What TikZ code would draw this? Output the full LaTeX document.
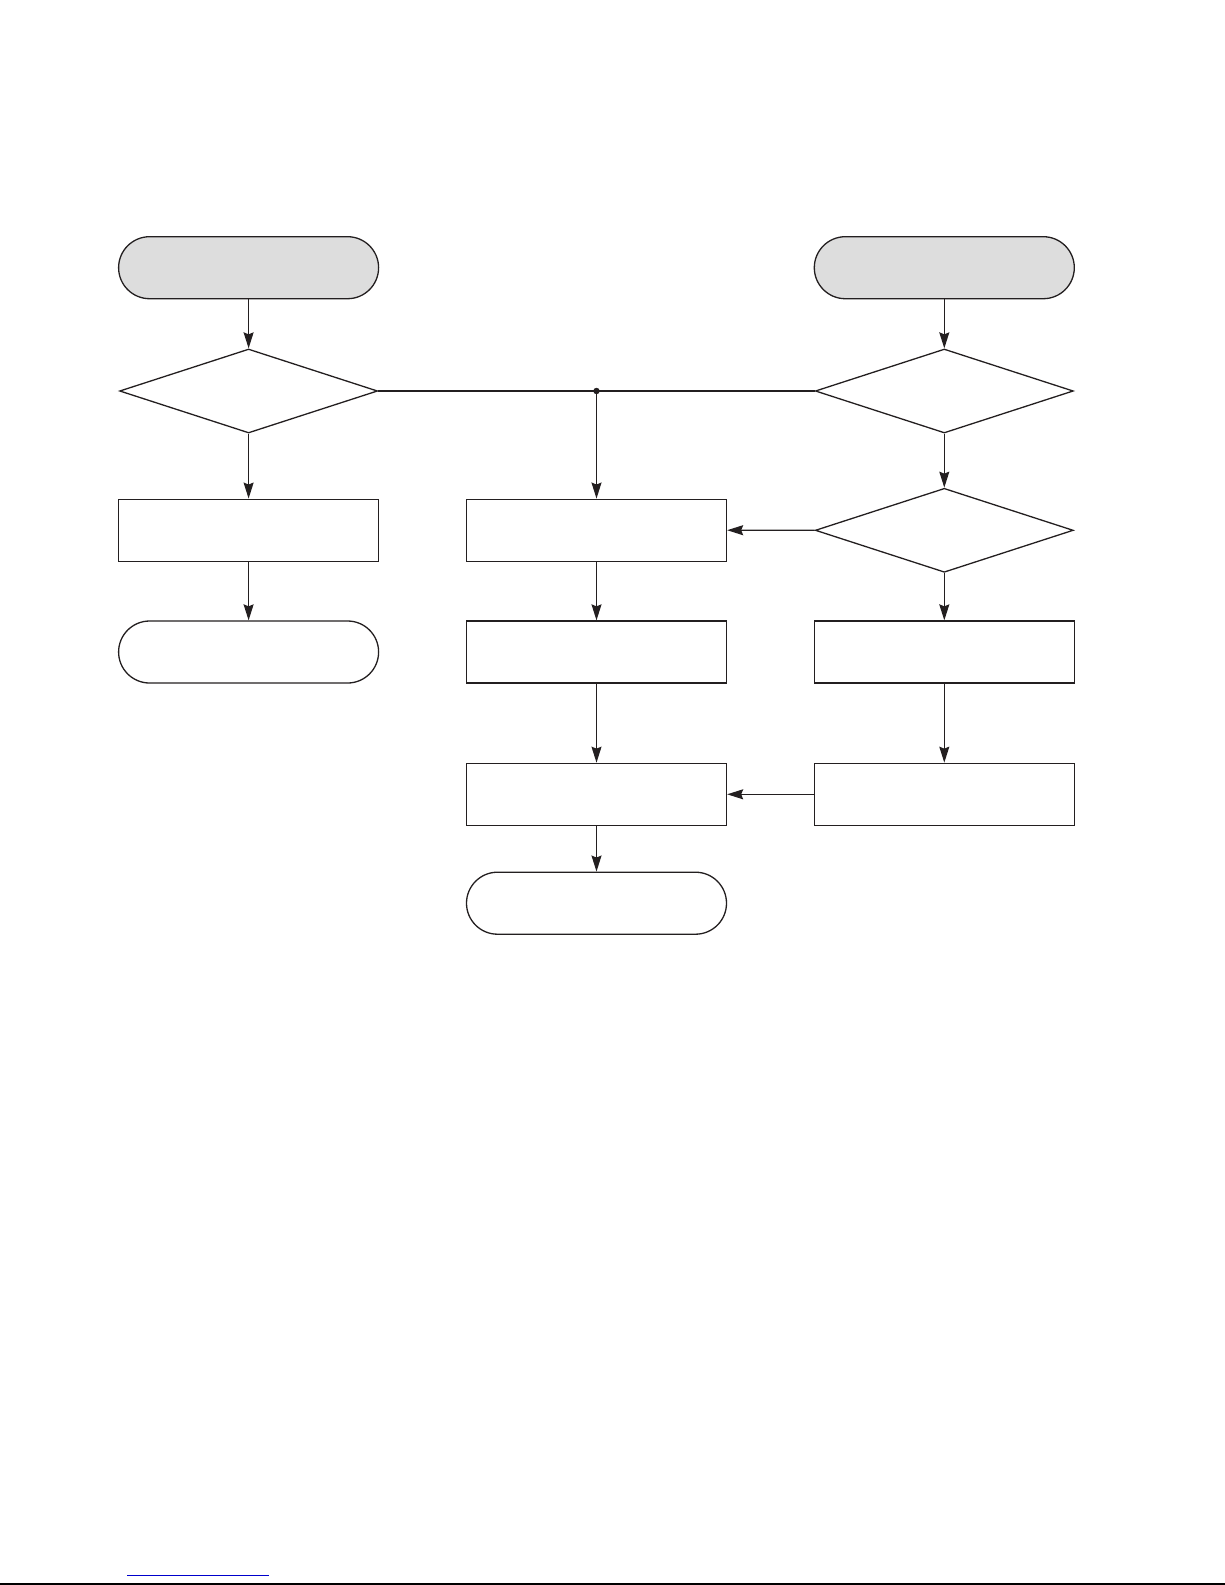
\documentclass[tikz,border=0pt]{standalone}
\usepackage{tikz}
\usetikzlibrary{arrows.meta,positioning,shapes.geometric,shapes.misc}
\definecolor{inkline}{HTML}{231F20}
\definecolor{termgray}{HTML}{DDDDDD}
\definecolor{linkblue}{HTML}{0000CC}
\begin{document}
\begin{tikzpicture}[
  x=1pt, y=1pt, yscale=-1,
  every node/.style={draw=inkline,line width=1.3pt,inner sep=0pt},
  terminal/.style={rounded rectangle,minimum width=260pt,minimum height=62pt},
  startterm/.style={terminal,fill=termgray},
  decision/.style={diamond,aspect=3.07,minimum width=258pt,minimum height=84pt},
  process/.style={rectangle,minimum width=260pt,minimum height=62pt},
  flow/.style={draw=inkline,line width=1.3pt,-{Stealth[length=16pt,width=10pt,inset=2pt]}},
  bus/.style={draw=inkline,line width=2.4pt}
  ]
  \useasboundingbox (0,0) rectangle (1225,1585);

  % left column
  \node[startterm] (startL) at (248.6,267.7) {};
  \node[decision] (decL) at (248.6,391) {};
  \node[process] (procL) at (248.6,530.2) {};
  \node[terminal] (termL) at (248.6,652) {};
  \draw[flow] (startL) -- (decL);
  \draw[flow] (decL) -- (procL);
  \draw[flow] (procL) -- (termL);

  % right column
  \node[startterm] (startR) at (944.3,267.7) {};
  \node[decision] (decRa) at (944.3,391) {};
  \node[decision] (decRb) at (944.3,530.3) {};
  \node[process] (procRa) at (944.3,652) {};
  \node[process] (procRb) at (944.3,794.3) {};
  \draw[flow] (startR) -- (decRa);
  \draw[flow] (decRa) -- (decRb);
  \draw[flow] (decRb) -- (procRa);
  \draw[flow] (procRa) -- (procRb);

  % middle column
  \coordinate (joint) at (596.5,391);
  \node[process] (procMa) at (596.5,530.2) {};
  \node[process] (procMb) at (596.5,652) {};
  \node[process] (procMc) at (596.5,794.3) {};
  \node[terminal] (termM) at (596.5,903.2) {};
  \draw[bus] (decL.east) -- (joint) -- (decRa.west);
  \fill[inkline] (joint) circle (3.2pt);
  \draw[flow] (joint) -- (procMa);
  \draw[flow] (procMa) -- (procMb);
  \draw[flow] (procMb) -- (procMc);
  \draw[flow] (procMc) -- (termM);
  \draw[flow] (decRb.west) -- (procMa.east);
  \draw[flow] (procRb.west) -- (procMc.east);

  % page foot
  \draw[linkblue,line width=1.6pt] (127,1575.5) -- (269,1575.5);
  \draw[black,line width=2.2pt] (0,1584) -- (1225,1584);
\end{tikzpicture}
\end{document}
